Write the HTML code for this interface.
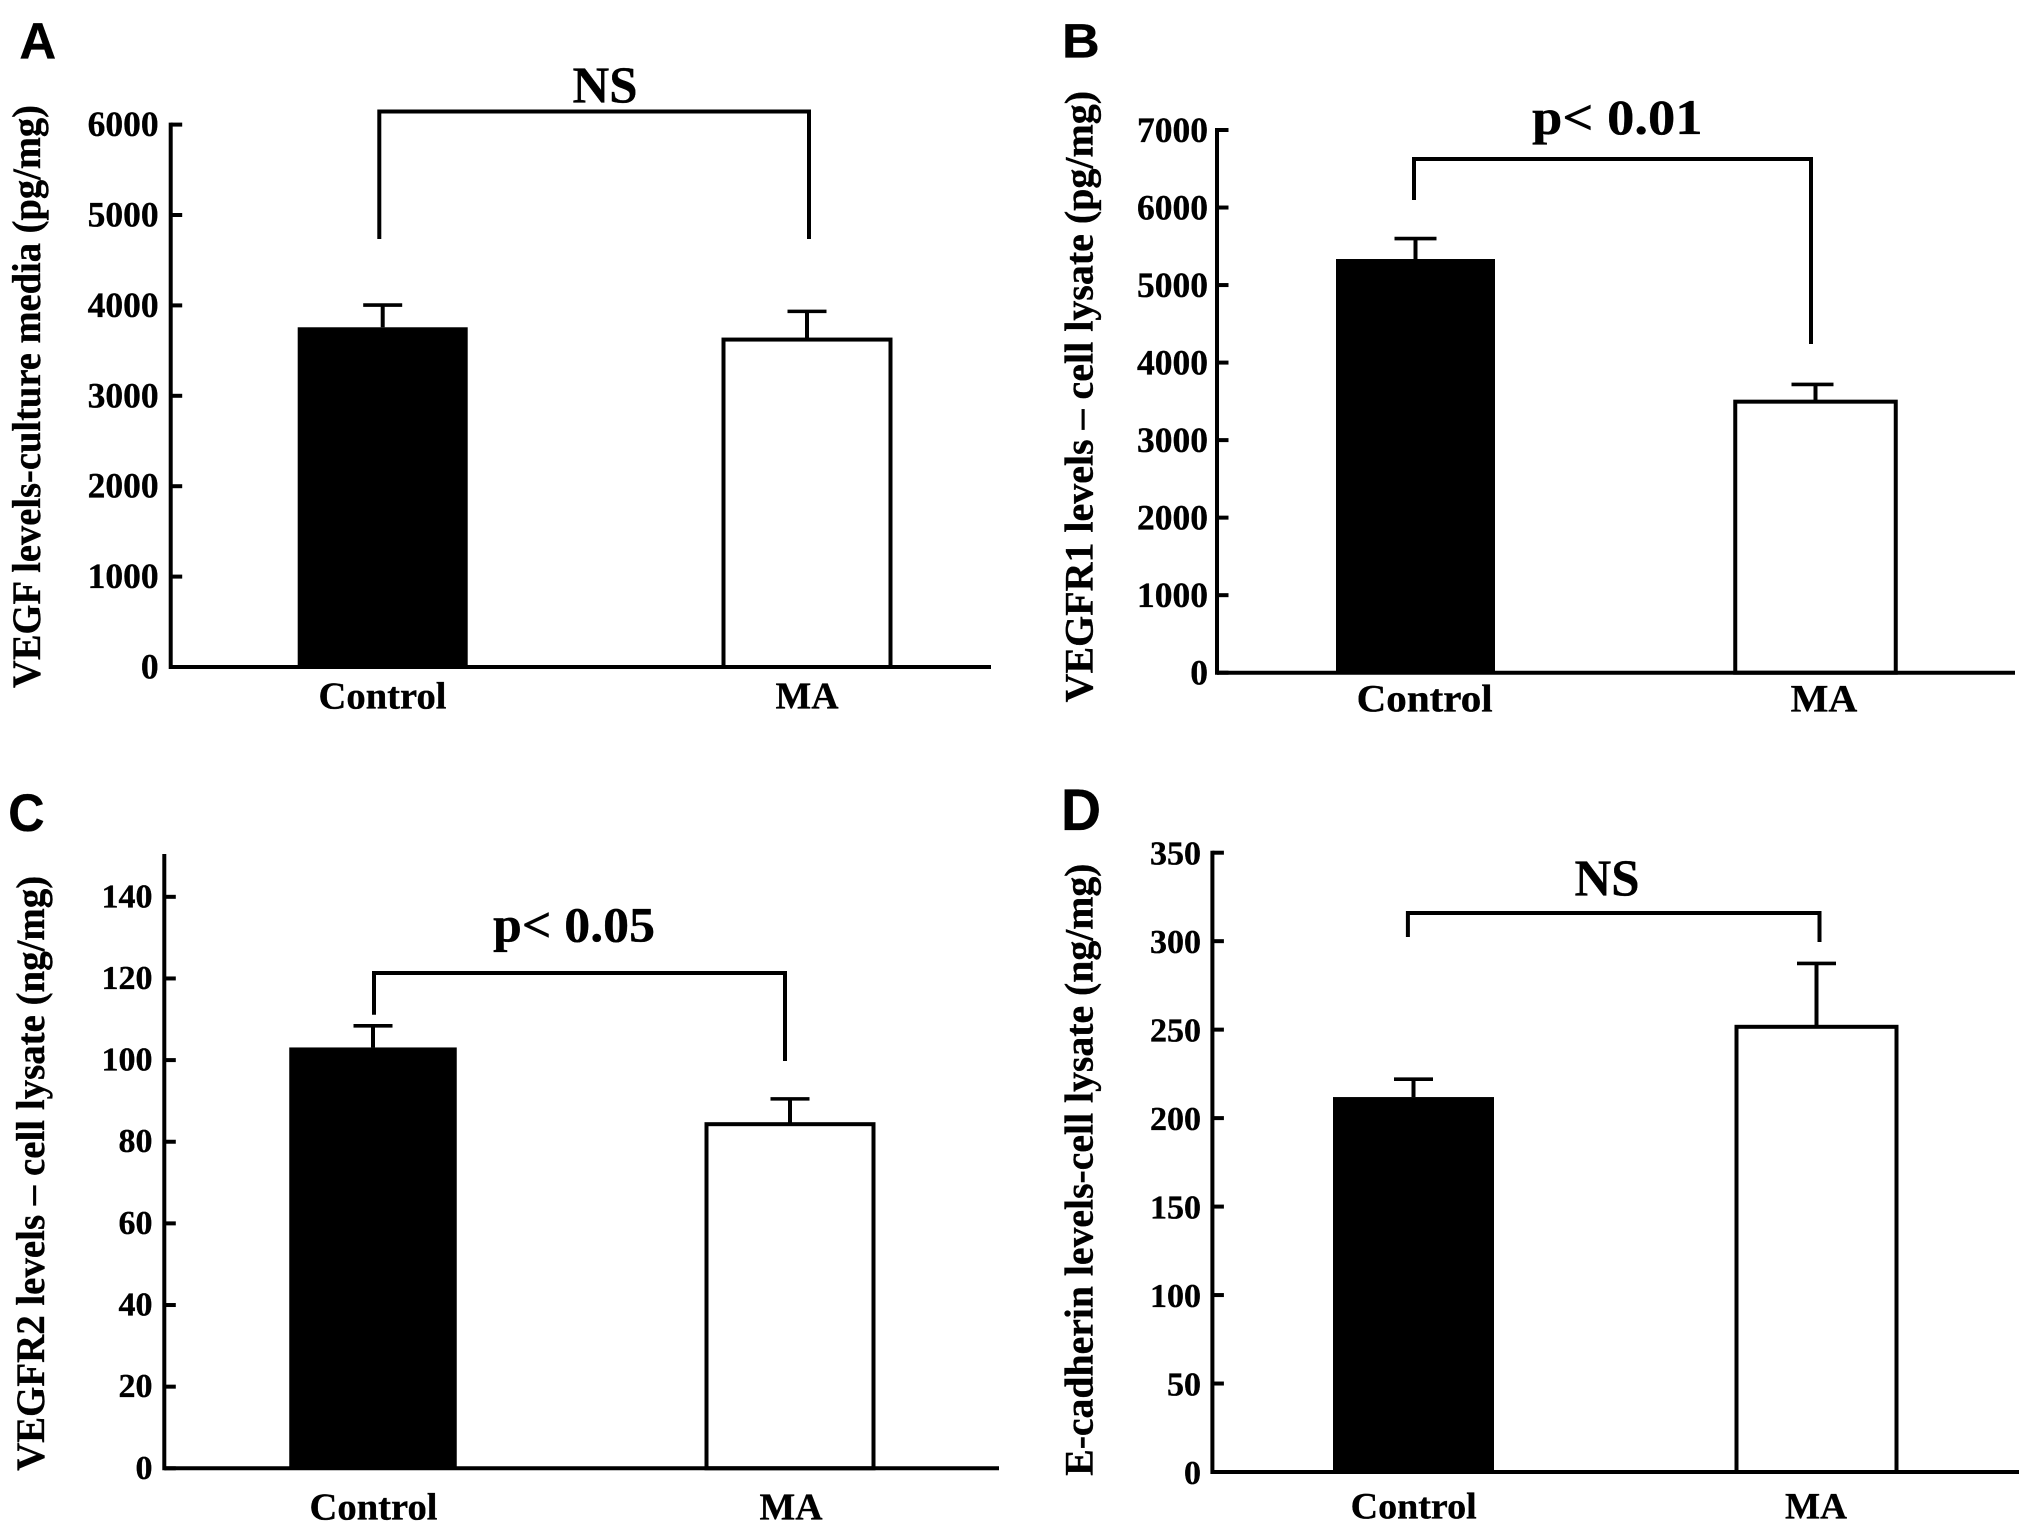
<!DOCTYPE html>
<html lang="en">
<head>
<meta charset="utf-8">
<title>VEGF, VEGFR1, VEGFR2 and E-cadherin levels</title>
<style>
html,body{margin:0;padding:0;background:#fff;}
svg{display:block;}
text{font-family:"Liberation Serif","Times New Roman",serif;font-weight:700;fill:#000;stroke:#000;stroke-width:0.35px;}
.letter{font-family:"Liberation Sans",Arial,sans-serif;}
</style>
</head>
<body>
<svg id="figure" xmlns="http://www.w3.org/2000/svg" width="2031" height="1533" viewBox="0 0 2031 1533"></svg>
<script>
// ---- chart data ----
const categories = ["Control", "MA"];

const valuesA = [3758, 3622];
const errorTopsA = [4004, 3934];
const ticksA = [0, 1000, 2000, 3000, 4000, 5000, 6000];

const valuesB = [5336, 3496];
const errorTopsB = [5600, 3718];
const ticksB = [0, 1000, 2000, 3000, 4000, 5000, 6000, 7000];

const valuesC = [103.1, 84.3];
const errorTopsC = [108.4, 90.5];
const ticksC = [0, 20, 40, 60, 80, 100, 120, 140];

const valuesD = [211.9, 251.6];
const errorTopsD = [222, 287.4];
const ticksD = [0, 50, 100, 150, 200, 250, 300, 350];

// ---- panel layout (pixel geometry only, no data) ----
const panels = [
  {id:"a", letter:"A", lx:19.4, ly:58.5, lf:51, lw:36.8, values:valuesA, errs:errorTopsA, ticks:ticksA, yMax:6000,
   axisX:170.7, x1:991, base:667, top:124.6, c0:382.7, c1:807, barW0:170, barW1:171, capW:39, capDx:0, tickRight:158.6, tickF:35.5, tickDy:11.5,
   title:"VEGF levels-culture media (pg/mg)", tx:40, ty0:105, ty1:688,
   catY:708.7, catF:38, catC:[382.5,807], catW:[128,63],
   sig:"NS", sx:605, sy:102.4, sw:65, sFont:52, bl:379.3, br:809, bt:111.5, blb:239, brb:239},
  {id:"b", letter:"B", lx:1062, ly:57.6, lf:48, lw:37.7, values:valuesB, errs:errorTopsB, ticks:ticksB, yMax:7000,
   axisX:1217, x1:2015, base:672.7, top:130, c0:1415.5, c1:1815.5, barW0:159, barW1:164.5, capW:42, capDx:-3, tickRight:1208, tickF:35.5, tickDy:12,
   title:"VEGFR1 levels \u2013 cell lysate (pg/mg)", tx:1092.7, ty0:91, ty1:702.4,
   catY:711.7, catF:39, catC:[1424.7,1824], catW:[136,66.7],
   sig:"p< 0.01", sx:1617.3, sy:134, sw:170.5, sFont:50, bl:1414, br:1811, bt:159, blb:200, brb:344},
  {id:"c", letter:"C", lx:8.3, ly:831, lf:53, lw:36.3, values:valuesC, errs:errorTopsC, ticks:ticksC, yMax:150,
   axisX:164.3, x1:999, base:1468.3, top:856, c0:373, c1:790, barW0:167.5, barW1:171, capW:39, capDx:0, tickRight:152.5, tickF:34, tickDy:10.5,
   title:"VEGFR2 levels \u2013 cell lysate (ng/mg)", tx:44, ty0:875.8, ty1:1470.9,
   catY:1519.5, catF:38, catC:[373.5,791], catW:[128,63],
   sig:"p< 0.05", sx:574, sy:941.6, sw:162, sFont:50, bl:374, br:785, bt:973, blb:1014.8, brb:1061},
  {id:"d", letter:"D", lx:1061, ly:830, lf:58, lw:40, values:valuesD, errs:errorTopsD, ticks:ticksD, yMax:350,
   axisX:1212.4, x1:2019, base:1472, top:852.7, c0:1413.5, c1:1816.5, barW0:161, barW1:164, capW:39, capDx:0, tickRight:1201, tickF:34, tickDy:12,
   title:"E-cadherin levels-cell lysate (ng/mg)", tx:1092.7, ty0:863.6, ty1:1475.8,
   catY:1518.3, catF:37, catC:[1413.7,1816], catW:[126,62],
   sig:"NS", sx:1607, sy:895.3, sw:65, sFont:52, bl:1407.9, br:1819.5, bt:913, blb:937, brb:942}
];

const NS = "http://www.w3.org/2000/svg";
const svg = document.getElementById("figure");
const LW = 4;

function make(parent, tag, attrs, content) {
  const el = document.createElementNS(NS, tag);
  for (const k in attrs) el.setAttribute(k, attrs[k]);
  if (content !== undefined) el.textContent = content;
  parent.appendChild(el);
  return el;
}

panels.forEach(function (p) {
  const yScale = function (v) { return p.base - (v / p.yMax) * (p.base - p.top); };
  const xScale = function (i) { return i === 0 ? p.c0 : p.c1; };

  const g = make(svg, "g", {});
  
  

  const letter = make(g, "text", {x:p.lx, y:p.ly, "font-size":p.lf, "class":"letter", textLength:p.lw, lengthAdjust:"spacingAndGlyphs"}, p.letter);
  
  

  const title = make(g, "text", {
    transform:"translate(" + p.tx + "," + ((p.ty0 + p.ty1) / 2) + ") rotate(-90)",
    "text-anchor":"middle", "font-size":40,
    textLength:(p.ty1 - p.ty0), lengthAdjust:"spacingAndGlyphs"
  }, p.title);
  
  

  // bars and error bars
  categories.forEach(function (cat, i) {
    const cx = xScale(i);
    const top = yScale(p.values[i]);
    const errY = yScale(p.errs[i]);
    const capX = i === 1 ? cx + p.capDx : cx;

    const stem = make(g, "line", {x1:cx, x2:cx, y1:errY, y2:top, stroke:"#000", "stroke-width":LW});
    
    

    const cap = make(g, "line", {x1:capX - p.capW / 2, x2:capX + p.capW / 2, y1:errY, y2:errY, stroke:"#000", "stroke-width":3.6});
    
    

    const w = i === 0 ? p.barW0 : p.barW1;
    const inset = i === 0 ? 0 : LW / 2;
    const bar = make(g, "rect", {
      x:cx - w / 2 + inset,
      y:top,
      width:w - 2 * inset,
      height:Math.max(0, p.base - top),
      fill:i === 0 ? "#000" : "#fff",
      stroke:i === 0 ? "none" : "#000",
      "stroke-width":i === 0 ? 0 : LW
    });
    
    

    const label = make(g, "text", {
      x:p.catC[i], y:p.catY, "text-anchor":"middle", "font-size":p.catF,
      textLength:p.catW[i], lengthAdjust:"spacingAndGlyphs"
    }, cat);
    
    
  });

  // axes
  const yAxis = make(g, "line", {x1:p.axisX, x2:p.axisX, y1:p.top - LW / 2, y2:p.base + LW / 2, stroke:"#000", "stroke-width":LW});
  
  

  const xAxis = make(g, "line", {x1:p.axisX, x2:p.x1, y1:p.base, y2:p.base, stroke:"#000", "stroke-width":LW});
  
  

  p.ticks.forEach(function (t) {
    const y = yScale(t);
    const tick = make(g, "line", {x1:p.axisX, x2:p.axisX + 11.5, y1:y, y2:y, stroke:"#000", "stroke-width":LW});
    
    

    const tl = make(g, "text", {x:p.tickRight, y:y + p.tickDy, "text-anchor":"end", "font-size":p.tickF}, String(t));
    
    
  });

  // significance bracket
  const bracket = make(g, "path", {
    d:"M" + p.bl + " " + p.blb + "V" + p.bt + "H" + p.br + "V" + p.brb,
    fill:"none", stroke:"#000", "stroke-width":LW, "stroke-linejoin":"miter"
  });
  
  

  const sig = make(g, "text", {
    x:p.sx, y:p.sy, "text-anchor":"middle", "font-size":p.sFont,
    textLength:p.sw, lengthAdjust:"spacingAndGlyphs"
  }, p.sig);
  
  
});
</script>
</body>
</html>
